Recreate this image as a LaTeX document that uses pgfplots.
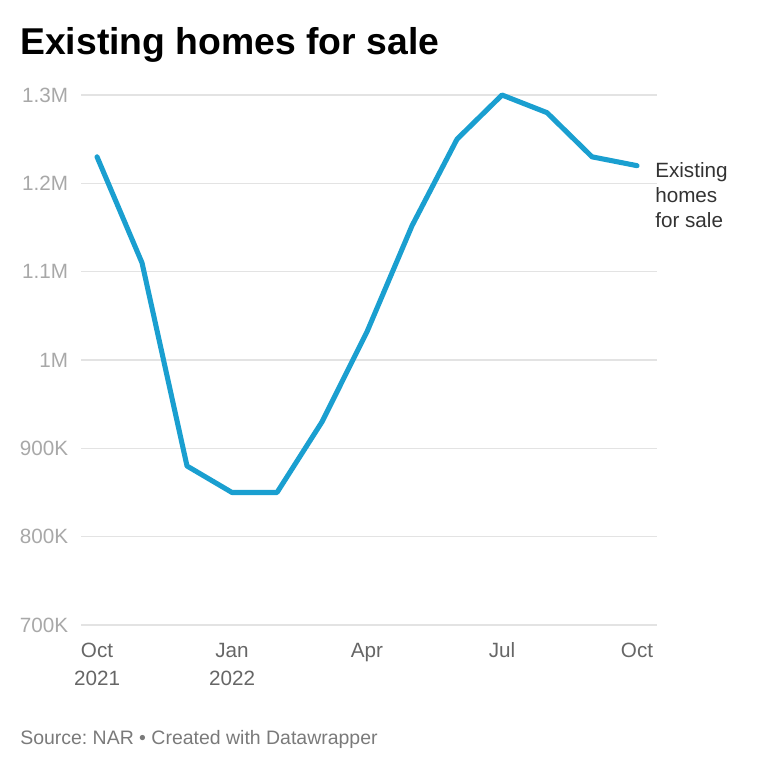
\documentclass[border=0pt]{standalone}
\usepackage{pgfplots}
\pgfplotsset{compat=1.18}
\usepackage{fontspec}
\setmainfont{Liberation Sans}
\frenchspacing
\definecolor{lineblue}{HTML}{1A9FD0}
\definecolor{gridgray}{HTML}{E3E3E3}
\definecolor{ylab}{HTML}{A8A8A8}
\definecolor{xlab}{HTML}{666666}
\definecolor{srcgray}{HTML}{7A7A7A}
\definecolor{lab}{HTML}{333333}
\newcommand{\tl}{\rule{0pt}{12pt}}
\begin{document}
\begin{tikzpicture}
\path[use as bounding box] (0,0) rectangle (576pt,576pt);
\begin{axis}[
  at={(60.75pt,107.25pt)}, anchor=south west,
  scale only axis, width=432pt, height=397.5pt,
  xmin=-0.356, xmax=12.444,
  ymin=700000, ymax=1300000,
  scaled y ticks=false,
  axis line style={draw=none},
  major tick length=0pt,
  ymajorgrids, grid style={gridgray, line width=1pt},
  ytick={700000,800000,900000,1000000,1100000,1200000,1300000},
  yticklabels={700K,800K,900K,1M,1.1M,1.2M,1.3M},
  xtick={0,3,6,9,12},
  xticklabels={\tl Oct\\2021,\tl Jan\\2022,\tl Apr,\tl Jul,\tl Oct},
  yticklabel style={font=\fontsize{15.5pt}{18pt}\selectfont, text=ylab, anchor=east, inner sep=0pt, xshift=-9.5pt},
  xticklabel style={font=\fontsize{15.5pt}{21pt}\selectfont, text=xlab, anchor=north, align=center, inner sep=0pt, yshift=-12pt},
  clip=false,
]
\addplot[lineblue, line width=3.8pt, line join=round, line cap=round] coordinates {
 (0,1230000) (1,1110000) (2,880000) (3,850000) (4,850000) (5,930000)
 (6,1032000) (7,1152000) (8,1250000) (9,1300000) (10,1280000) (11,1230000) (12,1220000)
};
\end{axis}
\node[anchor=base west, inner sep=0pt, font=\fontsize{28pt}{32pt}\selectfont\bfseries] at (15pt,534.75pt) {Existing homes for sale};
\node[anchor=base west, inner sep=0pt, text=srcgray, font=\fontsize{14.6pt}{17pt}\selectfont] at (15pt,17.25pt) {Source: NAR • Created with Datawrapper};
\node[anchor=base west, inner sep=0pt, text=lab, font=\fontsize{15.5pt}{18pt}\selectfont] at (491.25pt,442.5pt) {Existing};
\node[anchor=base west, inner sep=0pt, text=lab, font=\fontsize{15.5pt}{18pt}\selectfont] at (491.25pt,423.75pt) {homes};
\node[anchor=base west, inner sep=0pt, text=lab, font=\fontsize{15.5pt}{18pt}\selectfont] at (491.25pt,405pt) {for sale};
\end{tikzpicture}
\end{document}
